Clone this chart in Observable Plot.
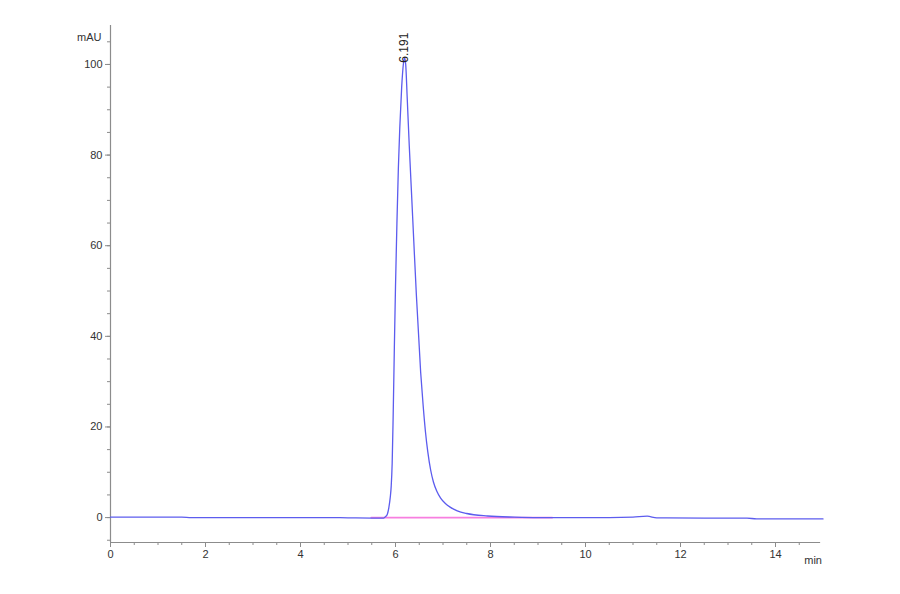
<!DOCTYPE html>
<html>
<head>
<meta charset="utf-8">
<script src="https://cdn.jsdelivr.net/npm/d3@7"></script>
<script src="https://cdn.jsdelivr.net/npm/@observablehq/plot@0.6"></script>
<style>
  html, body { margin: 0; padding: 0; background: #fff; }
  #chart { width: 900px; height: 594px; }
</style>
</head>
<body>
<div id="chart"></div>
<script>
// Chromatogram trace (time in min, signal in mAU)
const time = [0, 0.8, 1.5, 1.7, 3.0, 4.5, 5.0, 5.5, 5.75, 5.79, 5.83, 5.86, 5.89, 5.91, 5.93, 5.95, 5.975, 6.0, 6.03, 6.06, 6.09, 6.13, 6.165, 6.191, 6.215, 6.245, 6.29, 6.34, 6.385, 6.44, 6.53, 6.58, 6.63, 6.68, 6.74, 6.80, 6.87, 6.95, 7.05, 7.15, 7.3, 7.5, 7.94, 8.5, 9.0, 10.5, 11.0, 11.3, 11.5, 12.5, 13.4, 13.6, 15.0];
const signal = [0.1, 0.1, 0.1, 0.0, 0.0, 0.0, -0.05, -0.1, -0.1, 0.2, 0.8, 2.2, 4.5, 7, 12, 22, 37, 51, 65, 77, 86, 95, 100, 101.5, 100, 93, 82, 71, 61, 49, 32, 25, 19, 14.5, 10.5, 7.8, 5.8, 4.3, 3.1, 2.3, 1.5, 0.9, 0.35, 0.1, 0.0, 0.0, 0.1, 0.3, -0.05, -0.1, -0.1, -0.3, -0.3];

// Integration baseline
const baseTime = [5.49, 9.3];
const baseValue = [0, 0];

// Peak annotation
const peakTime = [6.191];
const peakValue = [101.5];
const peakLabel = ["6.191"];

// Axis ticks
const xMajor = [0, 2, 4, 6, 8, 10, 12, 14];
const xMinor = d3.range(0, 15, 0.5);
const yMajor = [0, 20, 40, 60, 80, 100];
const yMinor = d3.range(-5, 106, 5);
const xDomain = [0, 15];
const yDomain = [-5.5, 108.6];
const xUnit = "min";
const yUnit = "mAU";

const trace = time.map((t, i) => ({t, v: signal[i]}));
const baseline = baseTime.map((t, i) => ({t, v: baseValue[i]}));
const peaks = peakTime.map((t, i) => ({t, v: peakValue[i], label: peakLabel[i]}));

const axisColor = "#8c8c8c";
const textColor = "#333";

const chart = Plot.plot({
  width: 900,
  height: 594,
  marginLeft: 110,
  marginRight: 77.5,
  marginTop: 25,
  marginBottom: 52,
  style: {fontFamily: "'Liberation Sans', Arial, sans-serif", fontSize: "11px", color: textColor, background: "#fff"},
  x: {domain: xDomain},
  y: {domain: yDomain},
  marks: [
    // axis lines
    Plot.ruleX([xDomain[0]], {y1: yDomain[0], y2: yDomain[1], stroke: axisColor, strokeWidth: 1.2}),
    Plot.ruleY([yDomain[0]], {x1: xDomain[0], x2: 14.95, stroke: axisColor, strokeWidth: 1.2}),
    // ticks
    Plot.axisY({ticks: yMinor, tickSize: 3, text: null, stroke: axisColor, label: null}),
    Plot.axisY({ticks: yMajor, tickSize: 5, tickPadding: 3, tickFormat: d3.format("d"), stroke: axisColor, fill: textColor, fontSize: 11, label: null}),
    Plot.axisX({ticks: xMinor, tickSize: 3, text: null, stroke: axisColor, label: null}),
    Plot.axisX({ticks: xMajor, tickSize: 5, tickPadding: 3, tickFormat: d3.format("d"), stroke: axisColor, fill: textColor, fontSize: 11, label: null}),
    // unit labels
    Plot.text([yUnit], {frameAnchor: "top-left", text: d => d, textAnchor: "end", dx: -9, dy: 8, fill: textColor, fontSize: 11}),
    Plot.text([xUnit], {frameAnchor: "bottom-right", text: d => d, textAnchor: "end", dx: -1, dy: 21, fill: textColor, fontSize: 11}),
    // baseline and trace
    Plot.line(baseline, {x: "t", y: "v", stroke: "#f77fe0", strokeWidth: 1.8}),
    Plot.line(trace, {x: "t", y: "v", stroke: "#5c5cee", strokeWidth: 1.3, curve: "monotone-x"}),
    // peak label
    Plot.text(peaks, {x: "t", y: "v", text: "label", rotate: -90, textAnchor: "start", dy: 5, dx: 0, fill: "#222", fontSize: 12})
  ]
});

document.getElementById("chart").appendChild(chart);
</script>
</body>
</html>
